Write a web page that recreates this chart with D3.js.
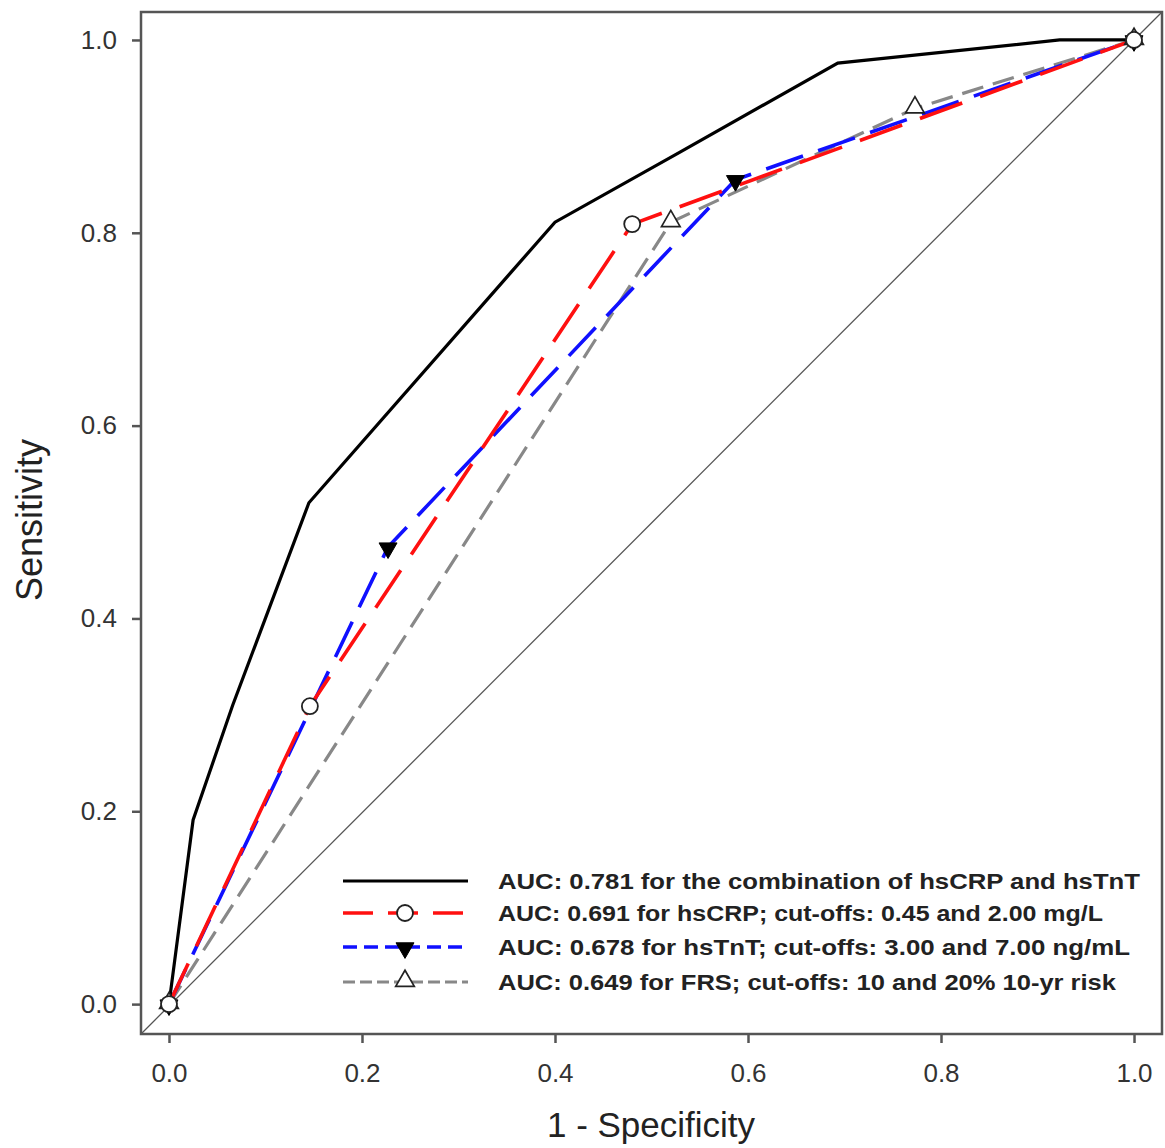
<!DOCTYPE html>
<html>
<head>
<meta charset="utf-8">
<script src="https://cdn.jsdelivr.net/npm/d3@7"></script>
<style>
body { margin: 0; background: #fff; }
text { font-family: Arial, "Liberation Sans", sans-serif; }
</style>
</head>
<body>
<div class="featured"></div>
<script>
// ROC curves, values
var comboX = [0, 0.025, 0.066, 0.145, 0.40, 0.53, 0.693, 0.923, 1.0];
var comboY = [0, 0.191, 0.31, 0.52, 0.811, 0.884, 0.976, 1.0, 1.0];

var crpX = [0, 0.146, 0.48, 1.0];
var crpY = [0, 0.309, 0.809, 1.0];

var tntX = [0, 0.227, 0.587, 1.0];
var tntY = [0, 0.474, 0.855, 1.0];

var frsX = [0, 0.52, 0.773, 1.0];
var frsY = [0, 0.811, 0.929, 1.0];

var tickVals = [0, 0.2, 0.4, 0.6, 0.8, 1.0];
var legendLabels = [
	"AUC: 0.781 for the combination of hsCRP and hsTnT",
	"AUC: 0.691 for hsCRP; cut-offs: 0.45 and 2.00 mg/L",
	"AUC: 0.678 for hsTnT; cut-offs: 3.00 and 7.00 ng/mL",
	"AUC: 0.649 for FRS; cut-offs: 10 and 20% 10-yr risk"
];

function drawChart()
{
var W = 1165, H = 1148;
var pL = 141, pR = 1162, pT = 12, pB = 1034;

var x = d3.scaleLinear().domain([-0.029, 1.029]).range([pL, pR]);
var y = d3.scaleLinear().domain([-0.031, 1.029]).range([pB, pT]);

var svg = d3.select(".featured").append("svg").attr("width", W).attr("height", H);

function pts(xs, ys) { return xs.map(function(d, i) { return {x: d, y: ys[i]}; }); }

var line = d3.line()
	.x(function(d) { return x(d.x); })
	.y(function(d) { return y(d.y); });

// diagonal reference
svg.append("path")
	.attr("d", line([{x: -0.029, y: -0.031}, {x: 1.029, y: 1.029}]))
	.attr("stroke", "#555").attr("stroke-width", 1.3).attr("fill", "none");

var series = [
	{d: pts(frsX, frsY), color: "#888", dash: "22,10", legDash: "12,5", marker: "up", w: 3.2},
	{d: pts(tntX, tntY), color: "#1010ff", dash: "39,16", legDash: "14,7", marker: "down", w: 3.6},
	{d: pts(crpX, crpY), color: "#ff1010", dash: "45,19", legDash: "30,15", marker: "circle", w: 3.6},
	{d: pts(comboX, comboY), color: "#000", dash: null, legDash: null, marker: null, w: 3.2}
];

series.forEach(function(s) {
	svg.append("path")
		.attr("d", line(s.d))
		.attr("stroke", s.color)
		.attr("stroke-width", s.w)
		.attr("stroke-dasharray", s.dash)
		.attr("fill", "none");
});

function drawMarker(g, type, cx, cy) {
	if (type === "circle") {
		g.append("circle").attr("cx", cx).attr("cy", cy).attr("r", 8)
			.attr("fill", "#fff").attr("stroke", "#222").attr("stroke-width", 1.8);
	} else if (type === "down") {
		g.append("path")
			.attr("d", d3.symbol().type(d3.symbolTriangle).size(140)())
			.attr("transform", "translate(" + cx + "," + (cy + 1) + ") rotate(180)")
			.attr("fill", "#000").attr("stroke", "#000").attr("stroke-width", 1);
	} else if (type === "up") {
		g.append("path")
			.attr("d", d3.symbol().type(d3.symbolTriangle).size(150)())
			.attr("transform", "translate(" + cx + "," + (cy - 1) + ")")
			.attr("fill", "#fff").attr("stroke", "#222").attr("stroke-width", 1.7);
	}
}

var mk = svg.append("g");
series.forEach(function(s) {
	if (!s.marker) return;
	s.d.forEach(function(p) { drawMarker(mk, s.marker, x(p.x), y(p.y)); });
});

// frame
svg.append("rect").attr("x", pL).attr("y", pT)
	.attr("width", pR - pL).attr("height", pB - pT)
	.attr("fill", "none").attr("stroke", "#555").attr("stroke-width", 2.5);

// axes
var xAxis = d3.axisBottom(x).tickValues(tickVals).tickFormat(d3.format(".1f")).tickSize(9).tickPadding(21);
var yAxis = d3.axisLeft(y).tickValues(tickVals).tickFormat(d3.format(".1f")).tickSize(9).tickPadding(15);

var gx = svg.append("g").attr("transform", "translate(0," + pB + ")").call(xAxis);
var gy = svg.append("g").attr("transform", "translate(" + pL + ",0)").call(yAxis);
[gx, gy].forEach(function(g) {
	g.select(".domain").remove();
	g.selectAll("line").attr("stroke", "#555").attr("stroke-width", 2.5);
	g.selectAll("text").attr("font-size", 26).attr("fill", "#333")
		.style("font-family", "Arial, 'Liberation Sans', sans-serif");
});

svg.append("text").attr("x", 651).attr("y", 1137).attr("text-anchor", "middle")
	.attr("font-size", 35).attr("fill", "#222").text("1 - Specificity");
svg.append("text").attr("transform", "translate(42,520) rotate(-90)").attr("text-anchor", "middle")
	.attr("font-size", 36).attr("fill", "#222").text("Sensitivity");

// legend
var legY = [881, 913, 947, 982];
var legW = [642, 605, 632, 618];
var leg = svg.append("g");
series.slice().reverse().forEach(function(s, i) {
	leg.append("line").attr("x1", 343).attr("x2", 468).attr("y1", legY[i]).attr("y2", legY[i])
		.attr("stroke", s.color).attr("stroke-width", s.w)
		.attr("stroke-dasharray", s.legDash);
	if (s.marker) drawMarker(leg, s.marker, 405, legY[i]);
	leg.append("text").attr("x", 498).attr("y", legY[i] + 8)
		.attr("font-size", 22).attr("font-weight", "bold").attr("fill", "#222")
		.attr("textLength", legW[i]).attr("lengthAdjust", "spacingAndGlyphs")
		.text(legendLabels[i]);
});
}

drawChart();
</script>
</body>
</html>
